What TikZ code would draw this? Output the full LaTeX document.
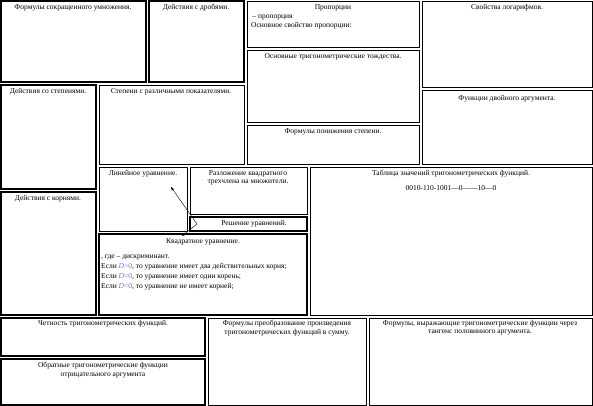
\documentclass[tikz,border=0pt]{standalone}
\usepackage{fontspec}
\setmainfont{Liberation Serif}
\usetikzlibrary{arrows.meta}
\definecolor{condblue}{RGB}{110,110,215}

\begin{document}
\begin{tikzpicture}[x=1pt,y=-1pt,
  thickbox/.style={line width=1.5pt},
  thinbox/.style={line width=0.7pt},
  title/.style={font=\fontsize{7.5}{8.5}\selectfont,anchor=north,align=center,inner sep=0pt},
  body/.style={font=\fontsize{7.5}{10}\selectfont,anchor=north west,align=left,inner sep=0pt}]
  \useasboundingbox (0,0) rectangle (593,406);
  % boxes drawn with a heavy frame
  \foreach \xa/\ya/\xb/\yb in {1/1/146/82, 149/1/244/82, 1/85/96/189, 1/192/96/315,
      190/217/307/231, 99/234/307/315, 1/318/205/356, 1/359/205/405}{%
    \draw[thickbox] (\xa,\ya) rectangle (\xb,\yb);
  }
  % boxes drawn with a light frame
  \foreach \xa/\ya/\xb/\yb in {247/1/419/47, 247/50/419/122, 247/125/419/164,
      422/1/592/87, 422/90/592/164, 99/85/244/164, 99/167/187/231,
      190/167/307/214, 310/167/592/315, 208/318/366/405, 369/318/592/405}{%
    \draw[thinbox] (\xa,\ya) rectangle (\xb,\yb);
  }
  \node[title] (mult) at (73,4) {Формулы сокращенного умножения.};
  \node[title] (frac) at (196,4) {Действия с дробями.};
  \node[title] (prop) at (333,4) {Пропорции};
  \node[body,font=\fontsize{7.5}{8.5}\selectfont] (propdef) at (251,15) {\,– пропорция\\Основное свойство пропорции:};
  \node[title] (ident) at (333,53) {Основные тригонометрические тождества.};
  \node[title] (lower) at (333,128) {Формулы понижения степени.};
  \node[title] (logs) at (507,4) {Свойства логарифмов.};
  \node[title] (dbl) at (507,95) {Функции двойного аргумента.};
  \node[title] (pow) at (48,88) {Действия со степенями.};
  \node[title] (root) at (48,195) {Действия с корнями.};
  \node[title] (powdiff) at (171,88) {Степени с различными показателями.};
  \node[title] (lin) at (143,170) {Линейное уравнение.};
  \node[title] (fact) at (248,170) {Разложение квадратного\\трехчлена на множители.};
  \node[title] (solve) at (254,220) {Решение уравнений.};
  \node[title] (quad) at (203,238) {Квадратное уравнение.};
  \node[body] (quadtxt) at (101,255) {, где – дискриминант.\\
    Если \textcolor{condblue}{\textit{D}>0}, то уравнение имеет два действительных корня;\\
    Если \textcolor{condblue}{\textit{D}=0}, то уравнение имеет один корень;\\
    Если \textcolor{condblue}{\textit{D}<0}, то уравнение не имеет корней;};
  \node[title] (table) at (451,170) {Таблица значений тригонометрических функций.};
  \node[title] (tabval) at (451,185) {0010-110-1001—0——10—0};
  \node[title] (even) at (103,320) {Четность тригонометрических функций.};
  \node[title] (inv) at (103,362) {Обратные тригонометрические функции\\отрицательного аргумента};
  \node[title] (prod) at (287,320) {Формулы преобразование произведения\\тригонометрических функций в сумму.};
  \node[title] (half) at (480,320) {Формулы, выражающие тригонометрические функции через\\тангенс половинного аргумента.};
  % links out of the solving box
  \coordinate (fork) at (197,224);
  \coordinate (lintip) at (171,187);
  \coordinate (quadtip) at (182,236);
  \draw[-{Stealth[length=4pt,width=3pt]}] (fork) -- (lintip);
  \draw[-{Stealth[length=4pt,width=3pt]}] (fork) -- (quadtip);
\end{tikzpicture}
\end{document}
